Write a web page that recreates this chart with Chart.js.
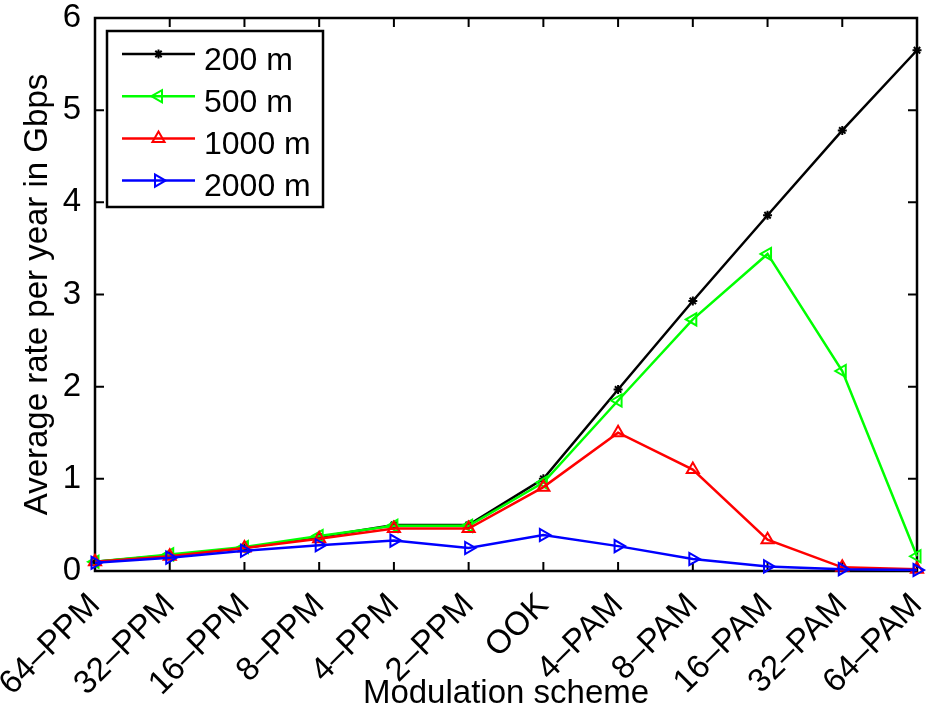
<!DOCTYPE html>
<html>
<head>
<meta charset="utf-8">
<script src="https://cdn.jsdelivr.net/npm/chart.js@4/dist/chart.umd.min.js"></script>
<style>
html,body{margin:0;padding:0;background:#fff;}
#wrap{width:930px;height:714px;}
</style>
</head>
<body>
<div id="wrap"><canvas id="c" width="930" height="714"></canvas></div>
<script>
const categories = ['64–PPM','32–PPM','16–PPM','8–PPM','4–PPM','2–PPM','OOK','4–PAM','8–PAM','16–PAM','32–PAM','64–PAM'];
const seriesNames = ['200 m','500 m','1000 m','2000 m'];
const rate200 = [0.10,0.17,0.25,0.37,0.50,0.50,1.00,1.97,2.93,3.86,4.78,5.65];
const rate500 = [0.10,0.18,0.26,0.38,0.49,0.49,0.96,1.85,2.73,3.44,2.17,0.16];
const rate1000 = [0.10,0.16,0.25,0.35,0.46,0.46,0.91,1.50,1.10,0.34,0.04,0.02];
const rate2000 = [0.09,0.145,0.22,0.28,0.33,0.25,0.39,0.27,0.13,0.05,0.02,0.01];
const yTicks = [0,1,2,3,4,5,6];

const FONT = 'Liberation Sans, Arial, Helvetica, sans-serif';
Chart.defaults.font.family = FONT;
Chart.defaults.color = '#000';

function mk(label, data, color, style, rot, radius, order){
  return {label, data, borderColor: color, backgroundColor: 'rgba(0,0,0,0)',
    borderWidth: 2.5, pointStyle: style, pointRotation: rot, pointRadius: radius,
    pointBorderWidth: 2, pointBorderColor: color, pointBackgroundColor: 'rgba(0,0,0,0)',
    tension: 0, clip: false, order};
}

function drawMarker(ctx, style, rot, r, x, y){
  ctx.beginPath();
  if (style === 'triangle'){
    let rad = rot*Math.PI/180;
    ctx.moveTo(x + Math.sin(rad)*r, y - Math.cos(rad)*r);
    rad += 2*Math.PI/3;
    ctx.lineTo(x + Math.sin(rad)*r, y - Math.cos(rad)*r);
    rad += 2*Math.PI/3;
    ctx.lineTo(x + Math.sin(rad)*r, y - Math.cos(rad)*r);
    ctx.closePath();
  } else {
    for (let k=0;k<4;k++){
      const a = k*Math.PI/4;
      ctx.moveTo(x - Math.cos(a)*r, y - Math.sin(a)*r);
      ctx.lineTo(x + Math.cos(a)*r, y + Math.sin(a)*r);
    }
  }
  ctx.stroke();
}

const framePlugin = {
  id: 'frame',
  beforeDatasetsDraw(chart){
    const {ctx, chartArea: a, scales} = chart;
    ctx.save();
    ctx.strokeStyle = '#000';
    ctx.lineWidth = 2.5;
    ctx.strokeRect(a.left, a.top, a.right - a.left, a.bottom - a.top);
    const tl = 9;
    ctx.lineWidth = 2;
    ctx.beginPath();
    yTicks.forEach(v => {
      const py = scales.y.getPixelForValue(v);
      ctx.moveTo(a.left, py); ctx.lineTo(a.left + tl, py);
      ctx.moveTo(a.right, py); ctx.lineTo(a.right - tl, py);
    });
    categories.forEach((c,i) => {
      const px = scales.x.getPixelForValue(i);
      ctx.moveTo(px, a.bottom); ctx.lineTo(px, a.bottom - tl);
      ctx.moveTo(px, a.top); ctx.lineTo(px, a.top + tl);
    });
    ctx.stroke();
    ctx.restore();
  },
  afterDraw(chart){
    const {ctx} = chart;
    const bx = 107, by = 31, bw = 216, bh = 176;
    ctx.save();
    ctx.fillStyle = '#fff';
    ctx.fillRect(bx, by, bw, bh);
    ctx.strokeStyle = '#000';
    ctx.lineWidth = 2.5;
    ctx.strokeRect(bx, by, bw, bh);
    const ds = chart.data.datasets;
    ds.forEach((d, i) => {
      const ly = 54 + i*42.2;
      ctx.strokeStyle = d.borderColor;
      ctx.lineWidth = 2.5;
      ctx.beginPath(); ctx.moveTo(122, ly); ctx.lineTo(195, ly); ctx.stroke();
      ctx.lineWidth = 2;
      drawMarker(ctx, d.pointStyle, d.pointRotation, d.pointStyle === 'star' ? 4.5 : 7, 158.5, ly);
      ctx.fillStyle = '#000';
      ctx.font = '32px ' + FONT;
      ctx.textBaseline = 'alphabetic';
      ctx.textAlign = 'left';
      ctx.fillText(d.label, 204, ly + 15.5);
    });
    ctx.restore();
  }
};

new Chart(document.getElementById('c'), {
  type: 'line',
  data: {
    labels: categories,
    datasets: [
      mk(seriesNames[0], rate200, '#000000', 'star', 0, 4.5, 4),
      mk(seriesNames[1], rate500, '#00ff00', 'triangle', -90, 7, 3),
      mk(seriesNames[2], rate1000, '#ff0000', 'triangle', 0, 7, 2),
      mk(seriesNames[3], rate2000, '#0000ff', 'triangle', 90, 7, 1)
    ]
  },
  options: {
    responsive: false,
    animation: false,
    devicePixelRatio: 1,
    layout: {padding: {top: 18, right: 13, left: 0, bottom: 0}},
    plugins: {legend: {display: false}, tooltip: {enabled: false}},
    elements: {line: {tension: 0}},
    scales: {
      x: {
        type: 'category',
        offset: false,
        grid: {display: false},
        border: {display: false},
        ticks: {autoSkip: false, minRotation: 45, maxRotation: 45, padding: 7,
          font: {size: 33}, color: '#000'},
        title: {display: true, text: 'Modulation scheme', font: {size: 33}, color: '#000',
          padding: {top: 0, bottom: 0}},
        afterFit(s){ s.height = 143; s.paddingLeft = 0; s.paddingRight = 0; }
      },
      y: {
        min: 0, max: 6,
        grid: {display: false},
        border: {display: false},
        afterBuildTicks(s){ s.ticks = yTicks.map(v => ({value: v})); },
        ticks: {padding: 6, font: {size: 33}, color: '#000'},
        title: {display: true, text: 'Average rate per year in Gbps', font: {size: 33}, color: '#000',
          padding: {top: 18, bottom: 0}},
        afterFit(s){ s.width = 95; s.paddingTop = 0; s.paddingBottom = 0; }
      }
    }
  },
  plugins: [framePlugin]
});
</script>
</body>
</html>
